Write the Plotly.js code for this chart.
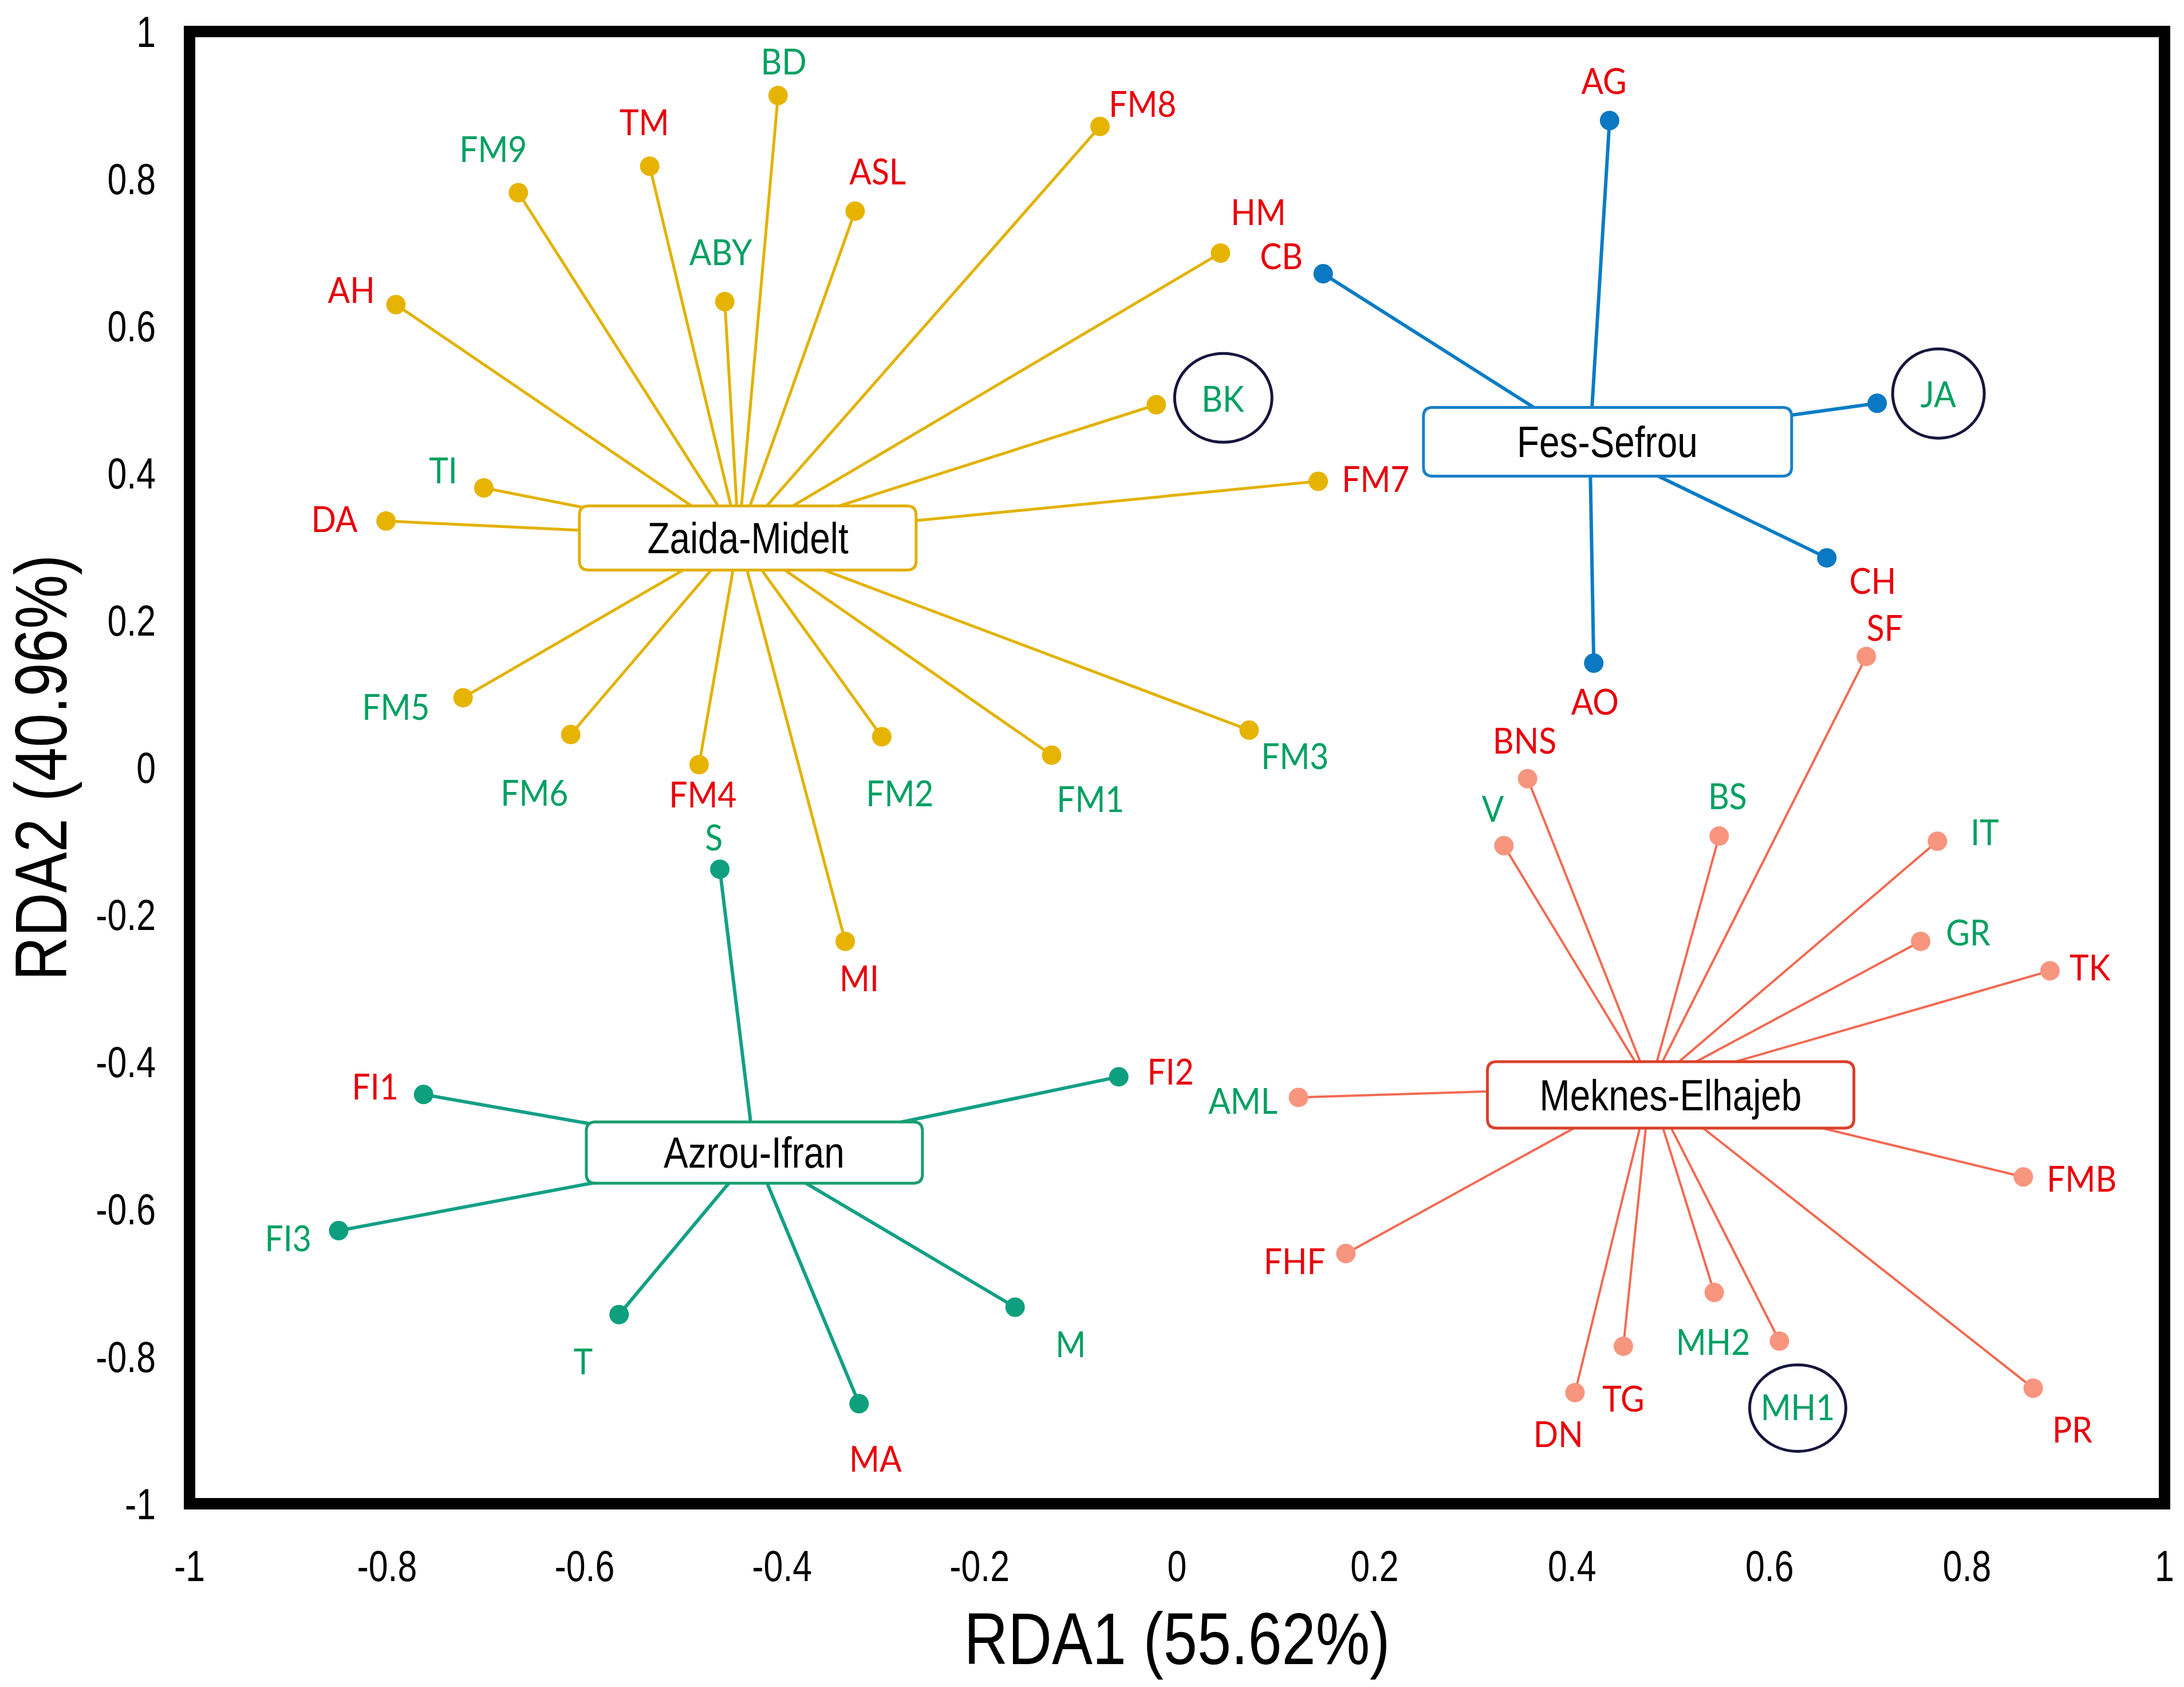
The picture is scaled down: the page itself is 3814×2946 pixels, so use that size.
<!DOCTYPE html>
<html><head><meta charset="utf-8">
<script src="https://cdn.plot.ly/plotly-3.0.1.min.js"></script>
<style>html,body{margin:0;padding:0;background:#fff}#chart{width:3814px;height:2946px}</style>
</head><body><div id="chart"></div>
<script>
// ---------------- DATA ----------------
const groupNames = ['Zaida-Midelt', 'Fes-Sefrou', 'Azrou-Ifran', 'Meknes-Elhajeb'];
const hubX = [-0.444, 0.418, -0.428, 0.479];
const hubY = [0.312, 0.441, -0.523, -0.433];

const zmSites = ['BD','TM','FM9','ASL','FM8','ABY','AH','HM','BK','FM7','TI','DA','FM5','FM6','FM4','FM2','FM1','FM3','MI'];
const zmX = [-0.404,-0.534,-0.667,-0.326,-0.078,-0.458,-0.791,0.044,-0.021,0.143,-0.702,-0.801,-0.723,-0.614,-0.484,-0.299,-0.127,0.073,-0.336];
const zmY = [0.913,0.817,0.781,0.756,0.871,0.633,0.629,0.699,0.493,0.389,0.380,0.335,0.095,0.045,0.004,0.042,0.017,0.051,-0.236];
const zmKind = ['g','r','g','r','r','g','r','r','g','r','g','r','g','g','r','g','g','g','r'];

const fsSites = ['AG','CB','JA','CH','AO'];
const fsX = [0.438, 0.148, 0.709, 0.658, 0.422];
const fsY = [0.879, 0.671, 0.495, 0.285, 0.142];
const fsKind = ['r','r','g','r','r'];

const aiSites = ['S','FI1','FI2','FI3','T','M','MA'];
const aiX = [-0.463,-0.763,-0.059,-0.849,-0.565,-0.164,-0.322];
const aiY = [-0.138,-0.444,-0.420,-0.629,-0.743,-0.733,-0.864];
const aiKind = ['g','r','r','g','g','g','r'];

const meSites = ['SF','BNS','BS','V','IT','GR','TK','AML','FMB','FHF','MH2','MH1','TG','DN','PR'];
const meX = [0.698,0.355,0.549,0.331,0.770,0.753,0.884,0.123,0.857,0.171,0.544,0.610,0.452,0.403,0.867];
const meY = [0.151,-0.015,-0.093,-0.106,-0.100,-0.236,-0.276,-0.448,-0.556,-0.660,-0.713,-0.779,-0.786,-0.849,-0.843];
const meKind = ['r','r','g','g','g','g','r','g','r','r','g','g','r','r','r'];

const circledSites = ['BK','JA','MH1'];

const xTickVals = [-1,-0.8,-0.6,-0.4,-0.2,0,0.2,0.4,0.6,0.8,1];
const xTickText = ['-1','-0.8','-0.6','-0.4','-0.2','0','0.2','0.4','0.6','0.8','1'];
const yTickVals = [-1,-0.8,-0.6,-0.4,-0.2,0,0.2,0.4,0.6,0.8,1];
const yTickText = ['-1','-0.8','-0.6','-0.4','-0.2','0','0.2','0.4','0.6','0.8','1'];

const xTitle = 'RDA1 (55.62%)';
const yTitle = 'RDA2 (40.96%)';

// ---------------- STYLE ----------------
const kindColor = {r: '#E8000B', g: '#00A062'};
const groupStyle = [
  {line: '#E2B200', lw: 5, marker: '#E6B400', border: '#E0B000', box: [588, 112], boxOff: [16, 0]},
  {line: '#0A7CC4', lw: 6, marker: '#0A78C2', border: '#1A80C8', box: [643, 120], boxOff: [31, 2]},
  {line: '#13A085', lw: 6, marker: '#0E9F7E', border: '#1A9E6E', box: [587, 107], boxOff: [0, 0]},
  {line: '#F26A52', lw: 4, marker: '#F8957F', border: '#D9412B', box: [640, 116], boxOff: [36, -15]}
];
// label offsets in pixels [dx, dy(up)]
const labelOff = {
  BD:[10,61], TM:[-10,78], FM9:[-44,78], ASL:[39,71], FM8:[75,41], ABY:[-7,88], AH:[-78,27], HM:[66,73],
  BK:[117,12], FM7:[100,5], TI:[-71,32], DA:[-90,5], FM5:[-117,-15], FM6:[-63,-100], FM4:[7,-51],
  FM2:[32,-97], FM1:[68,-75], FM3:[80,-44], MI:[24,-63],
  AG:[-10,71], CB:[-73,32], JA:[107,17], CH:[80,-39], AO:[2,-66],
  S:[-10,57], FI1:[-85,15], FI2:[90,10], FI3:[-88,-12], T:[-63,-80], M:[97,-63], MA:[29,-95],
  SF:[32,51], BNS:[-5,68], BS:[15,71], V:[-19,66], IT:[83,17], GR:[83,17], TK:[71,7], AML:[-97,-5],
  FMB:[102,-2], FHF:[-90,-12], MH2:[-2,-85], MH1:[32,-114], TG:[0,-90], DN:[-29,-71], PR:[68,-71]
};
const labelBoxHeight = 54;
const circleSize = {BK:[170,155], JA:[160,156], MH1:[168,151]};
const circleShift = {BK:[117,12], JA:[107,17], MH1:[32,-117]};

const sansFont = '"Liberation Sans", Arial, sans-serif';
const labelFont = 'Lato, "Open Sans", sans-serif';

// ---------------- BUILD ----------------
const groups = [
  {sites: zmSites, x: zmX, y: zmY, kind: zmKind},
  {sites: fsSites, x: fsX, y: fsY, kind: fsKind},
  {sites: aiSites, x: aiX, y: aiY, kind: aiKind},
  {sites: meSites, x: meX, y: meY, kind: meKind}
];

const traces = [];
const annotations = [];
const shapes = [];

groups.forEach((g, gi) => {
  const st = groupStyle[gi];
  const lx = [], ly = [];
  g.x.forEach((v, i) => { lx.push(hubX[gi], v, null); ly.push(hubY[gi], g.y[i], null); });
  traces.push({x: lx, y: ly, mode: 'lines', type: 'scatter', line: {color: st.line, width: st.lw},
               hoverinfo: 'skip', showlegend: false});
  traces.push({x: g.x, y: g.y, mode: 'markers', type: 'scatter', text: g.sites,
               marker: {color: st.marker, size: 34, line: {width: 0}}, showlegend: false, name: groupNames[gi]});
  g.sites.forEach((s, i) => {
    const off = labelOff[s] || [0, 40];
    annotations.push({x: g.x[i], y: g.y[i], xref: 'x', yref: 'y', text: s, showarrow: false,
      xshift: off[0], yshift: off[1], xanchor: 'center', yanchor: 'middle', borderpad: 0, height: labelBoxHeight,
      font: {family: labelFont, size: 62, color: kindColor[g.kind[i]]}});
    if (circledSites.includes(s)) {
      const cs = circleSize[s], sh = circleShift[s];
      shapes.push({type: 'circle', xref: 'x', yref: 'y', xsizemode: 'pixel', ysizemode: 'pixel',
        xanchor: g.x[i], yanchor: g.y[i], x0: sh[0] - cs[0]/2, x1: sh[0] + cs[0]/2,
        y0: sh[1] - cs[1]/2, y1: sh[1] + cs[1]/2, line: {color: '#16163E', width: 5}, layer: 'above'});
    }
  });
  // rounded label box
  const [w, h] = st.box, [dx, dy] = st.boxOff, r = 16;
  const L = dx - w/2, R = dx + w/2, T = dy + h/2, B = dy - h/2;
  const path = `M${L+r},${B} L${R-r},${B} Q${R},${B} ${R},${B+r} L${R},${T-r} Q${R},${T} ${R-r},${T} L${L+r},${T} Q${L},${T} ${L},${T-r} L${L},${B+r} Q${L},${B} ${L+r},${B} Z`;
  shapes.push({type: 'path', xref: 'x', yref: 'y', xsizemode: 'pixel', ysizemode: 'pixel',
    xanchor: hubX[gi], yanchor: hubY[gi], path: path, fillcolor: '#ffffff',
    line: {color: st.border, width: 5}, layer: 'above'});
  annotations.push({x: hubX[gi], y: hubY[gi], xref: 'x', yref: 'y', text: groupNames[gi], showarrow: false,
    xshift: dx, yshift: dy, xanchor: 'center', yanchor: 'middle',
    font: {family: sansFont, size: 76, color: '#000'}});
});

// frame
shapes.push({type: 'rect', xref: 'paper', yref: 'paper', x0: 0, x1: 1, y0: 0, y1: 1,
  line: {color: '#000', width: 20}, fillcolor: 'rgba(0,0,0,0)', layer: 'above'});

const layout = {
  width: 3814, height: 2946,
  paper_bgcolor: '#fff', plot_bgcolor: '#fff',
  margin: {l: 331, r: 34, t: 55, b: 320},
  showlegend: false,
  xaxis: {range: [-1, 1], tickvals: xTickVals, ticktext: xTickText, showgrid: false, zeroline: false,
    showline: false, ticks: '', ticklabelstandoff: 58, tickfont: {family: sansFont, size: 76, color: '#000'},
    title: {text: xTitle, font: {family: sansFont, size: 128, color: '#000'}, standoff: 40}},
  yaxis: {range: [-1, 1], tickvals: yTickVals, ticktext: yTickText, showgrid: false, zeroline: false,
    showline: false, ticks: '', ticklabelstandoff: 58, tickfont: {family: sansFont, size: 76, color: '#000'},
    title: {text: yTitle, font: {family: sansFont, size: 128, color: '#000'}, standoff: 40}},
  annotations: annotations,
  shapes: shapes
};

// horizontally condense text glyphs (reference uses a narrow face)
function condense(nodes, f) {
  nodes.forEach(t => {
    const w = t.getComputedTextLength();
    if (w > 0) { t.setAttribute('textLength', (w * f).toFixed(1)); t.setAttribute('lengthAdjust', 'spacingAndGlyphs'); }
  });
}

Plotly.newPlot('chart', traces, layout, {staticPlot: true, displayModeBar: false}).then(gd => {
  condense(gd.querySelectorAll('.xtick text, .ytick text'), 0.8);
  condense(gd.querySelectorAll('.g-xtitle text, .g-ytitle text'), 0.83);
  const annTexts = Array.from(gd.querySelectorAll('.annotation-text'));
  condense(annTexts.filter(t => groupNames.includes(t.textContent)), 0.84);
  condense(annTexts.filter(t => !groupNames.includes(t.textContent)), 0.92);
});
</script></body></html>
